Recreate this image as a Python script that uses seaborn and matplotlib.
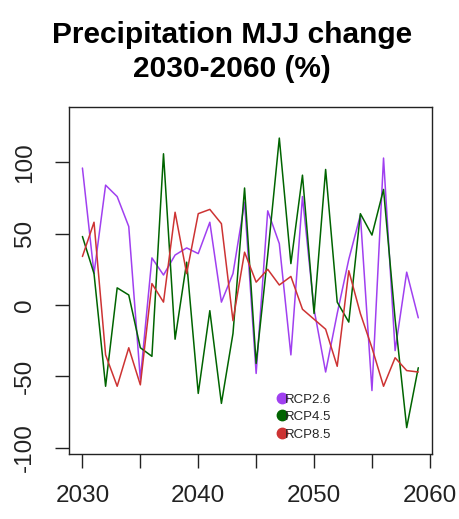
import matplotlib
matplotlib.use("Agg")
import matplotlib.pyplot as plt
from matplotlib.lines import Line2D
import seaborn as sns
import pandas as pd

years = list(range(2030, 2060))
rcp26 = [96, 22, 84, 76, 55, -52, 33, 21, 35, 40, 36, 58, 2, 22, 72,
         -48, 66, 43, -35, 76, -3, -47, -6, 32, 63, -60, 103, -32, 23, -9]
rcp45 = [48, 22, -57, 12, 7, -30, -36, 106, -24, 30, -62, -4, -69, -20, 82,
         -41, 35, 117, 29, 91, -6, 95, 2, -12, 64, 49, 81, -10, -86, -44]
rcp85 = [34, 58, -35, -57, -30, -56, 15, 2, 65, 22, 64, 67, 57, -11, 37,
         16, 25, 14, 20, -3, -10, -17, -43, 24, -6, -30, -57, -37, -46, -47]
scenarios = ["RCP2.6", "RCP4.5", "RCP8.5"]
colors = ["#A040F0", "#006400", "#CD3333"]
x_ticks = [2030, 2035, 2040, 2045, 2050, 2055, 2060]
x_labels = ["2030", "", "2040", "", "2050", "", "2060"]
y_ticks = [-100, -50, 0, 50, 100]

df = pd.DataFrame({
    "year": years * 3,
    "change": rcp26 + rcp45 + rcp85,
    "scenario": [s for s in scenarios for _ in years],
})

sns.set_theme(style="ticks")
plt.rcParams["font.family"] = ["Liberation Sans", "DejaVu Sans"]

fig = plt.figure(figsize=(4.6, 5.19), dpi=100)
ax = fig.add_axes([0.15, 0.1252, 0.7885, 0.6692])
sns.lineplot(data=df, x="year", y="change", hue="scenario",
             palette=colors, linewidth=1.1, legend=False, ax=ax)

ax.set_xlim(2028.84, 2060.16)
ax.set_ylim(-104.5, 139)
ax.set_xticks(x_ticks)
ax.set_xticklabels(x_labels)
ax.set_yticks(y_ticks)
ax.set_yticklabels([str(v) for v in y_ticks], rotation=90, va="center")
ax.tick_params(axis="x", length=10, width=1, pad=12, labelsize=17.5,
               colors="#222222")
ax.tick_params(axis="y", length=10, width=1, pad=14, labelsize=17.5,
               colors="#222222")
for s in ax.spines.values():
    s.set_visible(True)
    s.set_color("#222222")
    s.set_linewidth(1)
ax.set_xlabel("")
ax.set_ylabel("")

# two-line bold title, centred a bit right of the figure middle
fig.text(0.505, 0.9, "Precipitation MJJ change\n2030-2060 (%)",
         ha="center", va="center", fontsize=21.5, fontweight="bold",
         linespacing=1.3, color="black")

handles = [Line2D([], [], linestyle="none", marker="o", markersize=7.5,
                  color=c) for c in colors]
ax.legend(handles, scenarios, loc="upper left", bbox_to_anchor=(0.562, 0.19),
          frameon=False, fontsize=9.5, handlelength=0.6, handletextpad=-0.1,
          labelspacing=0.4, borderaxespad=0)

fig.savefig("out.png", dpi=100)
